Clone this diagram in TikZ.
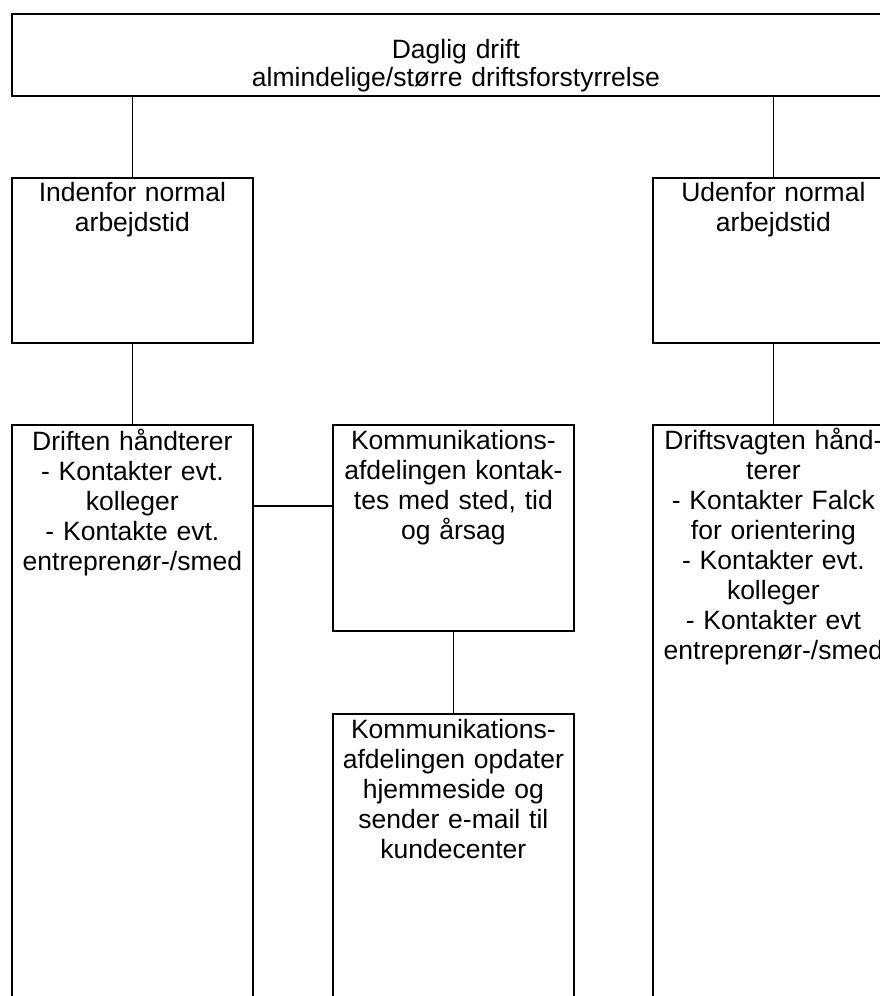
\documentclass[tikz,border=0pt]{standalone}
\usepackage{fontspec}
\setmainfont{Liberation Sans}
\begin{document}
\begin{tikzpicture}[x=1pt, y=-1pt, line width=1.8pt,
  box/.style={draw, anchor=north west, inner sep=0pt, minimum width=241pt},
  txt/.style={anchor=base, inner sep=0pt, text width=250pt, align=center, font=\fontsize{26.5}{30}\selectfont}]
  \clip (0,0) rectangle (880,996);
  % boxes
  \node[box, minimum width=888pt, minimum height=82pt] (hoved) at (11,13) {};
  \node[box, minimum height=165pt] (inden) at (11,177) {};
  \node[box, minimum height=165pt] (uden) at (652,177) {};
  \node[box, minimum height=600pt] (driften) at (11,424) {};
  \node[box, minimum height=206pt] (kom) at (332,424) {};
  \node[box, minimum height=300pt] (komweb) at (332,713) {};
  \node[box, minimum height=600pt] (vagt) at (652,424) {};
  % texts
  \node[txt, text width=600pt, font=\fontsize{26.5}{28}\selectfont] (hovedT) at ([yshift=-45pt]hoved.north)
    {Daglig drift\\almindelige/større driftsforstyrrelse};
  \node[txt] (indenT) at ([yshift=-24pt]inden.north) {Indenfor normal\\arbejdstid};
  \node[txt] (udenT) at ([yshift=-24pt]uden.north) {Udenfor normal\\arbejdstid};
  \node[txt] (driftenT) at ([yshift=-26pt]driften.north)
    {Driften håndterer\\- Kontakter evt.\\kolleger\\- Kontakte evt.\\entreprenør-/smed};
  \node[txt] (komT) at ([yshift=-25pt]kom.north)
    {Kommunikations-\\afdelingen kontak-\\tes med sted, tid\\og årsag};
  \node[txt] (komwebT) at ([yshift=-25pt]komweb.north)
    {Kommunikations-\\afdelingen opdater\\hjemmeside og\\sender e-mail til\\kundecenter};
  \node[txt] (vagtT) at ([yshift=-25pt]vagt.north)
    {Driftsvagten hånd-\\terer\\- Kontakter Falck\\for orientering\\- Kontakter evt.\\kolleger\\- Kontakter evt\\entreprenør-/smed};
  % connectors
  \foreach \a in {inden, uden}{
    \draw (hoved.south -| \a.north) -- (\a.north);
  }
  \foreach \a/\b in {inden/driften, uden/vagt, kom/komweb}{
    \draw (\a.south) -- (\b.north);
  }
  \draw ([yshift=-82pt]driften.north east) -- ([yshift=-82pt]kom.north west);
\end{tikzpicture}
\end{document}
